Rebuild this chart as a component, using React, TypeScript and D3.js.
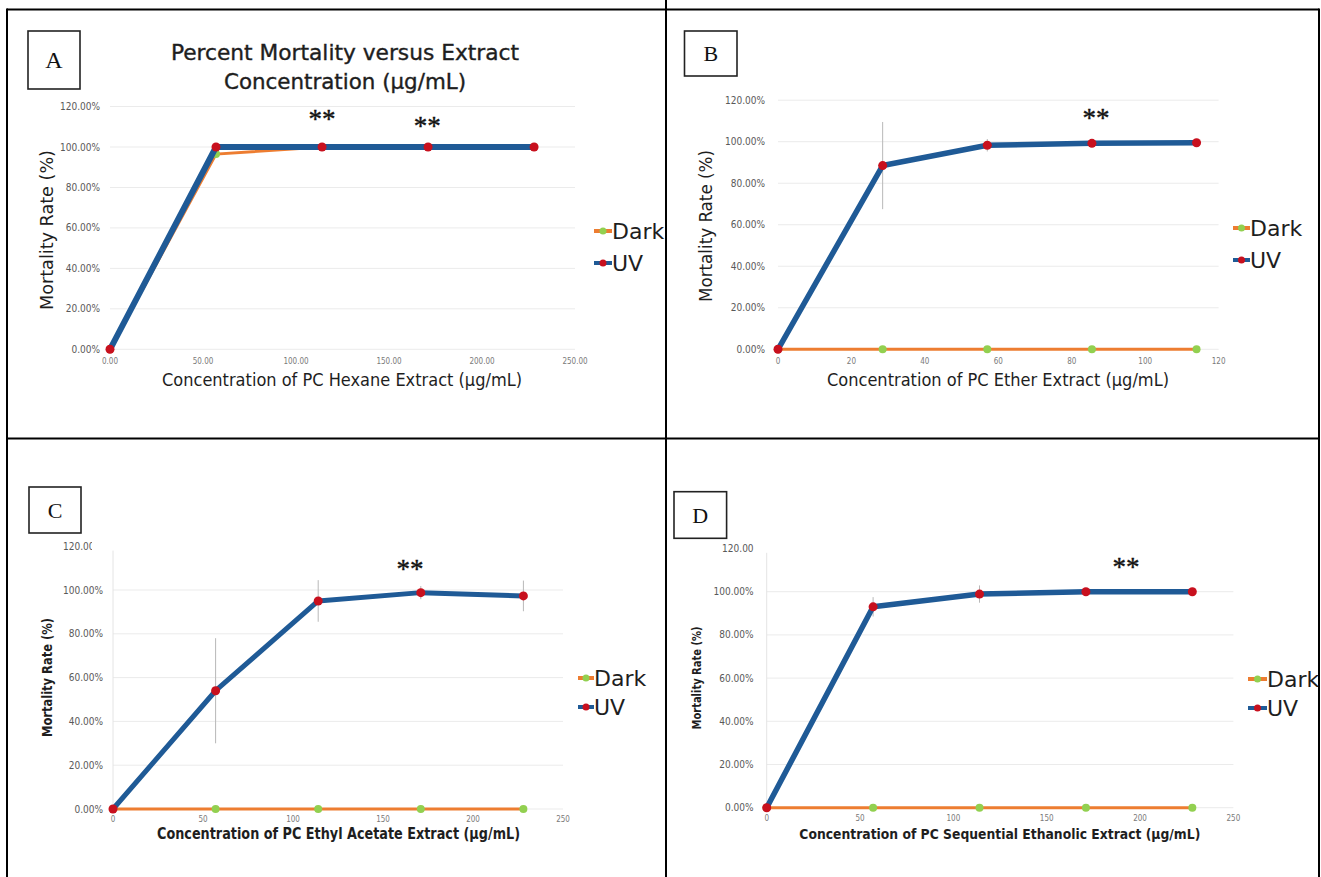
import React from 'react';
import * as d3 from 'd3';

// concentrations (ug/mL) and mortality (%)
const concA = [0, 57, 114, 171, 228];
const uvA = [0, 100, 100, 100, 100];
const darkA = [0, 96.5, 100, 100, 100];
const errA = [0, 0, 0, 0, 0];

const concB = [0, 28.5, 57, 85.5, 114];
const uvB = [0, 88.5, 98.3, 99.2, 99.5];
const darkB = [0, 0, 0, 0, 0];
const errB = [0, 21, 3, 0.5, 0.5];

const concC = [0, 57, 114, 171, 228];
const uvC = [0, 54, 95, 98.8, 97.3];
const darkC = [0, 0, 0, 0, 0];
const errC = [0, 24, 9.5, 3, 7];

const concD = [0, 57, 114, 171, 228];
const uvD = [0, 93, 98.9, 100, 100];
const darkD = [0, 0, 0, 0, 0];
const errD = [0, 4.5, 4, 0, 0];

const yTicks = [0, 20, 40, 60, 80, 100, 120];
const xTicks250 = [0, 50, 100, 150, 200, 250];
const xTicks120 = [0, 20, 40, 60, 80, 100, 120];

// significance marks: [conc, mortality]
const starsA = [[114, 115.5], [170.5, 112]];
const starsB = [[86.6, 113]];
const starsC = [[165, 111]];
const starsD = [[192.5, 113]];

const legendNames = ['Dark', 'UV'];

const BLUE = '#1f5a96';
const ORANGE = '#ed7d31';
const RED = '#c8101e';
const GREEN = '#92d050';

interface PanelProps {
  id: string;
  letter: string;
  conc: number[];
  uv: number[];
  dark: number[];
  err: number[];
  stars: number[][];
  xMax: number;
  xTicks: number[];
  xFmt: (v: number) => string;
  xr: [number, number];
  yr: [number, number]; // pixel at 0% and at 100%
  topLabel: string;
  topClip?: number;
  gridMax: number;
  yLabelX: number;
  xLabelY: number;
  yTitle: string;
  yTitlePos: [number, number, number, number]; // x, y, length, size
  yTitleBold: boolean;
  xTitle: string;
  xTitlePos: [number, number, number, number];
  box: [number, number, number, number];
  boxFont: number;
  legend: [number, number, number, number]; // lineX, textX, yDark, yUV
  uvWidth: number;
  axisLine?: boolean;
}

const Panel: React.FC<PanelProps> = (p) => {
  const x = d3.scaleLinear().domain([0, p.xMax]).range(p.xr);
  const y = d3.scaleLinear().domain([0, 100]).range(p.yr);
  const line = d3.line<number>().x((_, i) => x(p.conc[i])).y(d => y(d));
  const sans = 'DejaVu Sans Condensed, DejaVu Sans, sans-serif';
  const [lx, tx, yDark, yUV] = p.legend;
  return (
    <g>
      {p.topClip !== undefined && (
        <clipPath id={`clip-${p.id}`}>
          <rect x={0} y={0} width={p.topClip} height={877} />
        </clipPath>
      )}
      {yTicks.filter(t => t <= p.gridMax).map(t => (
        <line key={t} x1={p.xr[0]} x2={p.xr[1]} y1={y(t)} y2={y(t)} stroke="#ebebeb" strokeWidth={1} />
      ))}
      {p.axisLine && (
        <line x1={p.xr[0]} x2={p.xr[0]} y1={y(118)} y2={y(0)} stroke="#e4e4e4" strokeWidth={1} />
      )}
      {yTicks.map(t => (
        <text key={t} x={p.yLabelX} y={y(t)} dy="0.35em" textAnchor="end" fontFamily={sans}
          fontSize={10} fill="#595959"
          clipPath={t === 120 && p.topClip !== undefined ? `url(#clip-${p.id})` : undefined}>
          {t === 120 ? p.topLabel : `${t.toFixed(2)}%`}
        </text>
      ))}
      {p.xTicks.map(t => (
        <text key={t} x={x(t)} y={p.xLabelY} textAnchor="middle" fontFamily={sans} fontSize={8} fill="#7a7a7a">
          {p.xFmt(t)}
        </text>
      ))}
      {p.err.map((e, i) => e > 0 && (
        <line key={i} x1={x(p.conc[i])} x2={x(p.conc[i])} y1={y(p.uv[i] - e)} y2={y(p.uv[i] + e)}
          stroke="#b8b8b8" strokeWidth={1} />
      ))}
      <path d={line(p.dark) || ''} fill="none" stroke={ORANGE} strokeWidth={3} />
      {p.dark.map((d, i) => (
        <circle key={i} cx={x(p.conc[i])} cy={y(d)} r={4} fill={GREEN} />
      ))}
      <path d={line(p.uv) || ''} fill="none" stroke={BLUE} strokeWidth={p.uvWidth} strokeLinejoin="round" />
      {p.uv.map((d, i) => (
        <circle key={i} cx={x(p.conc[i])} cy={y(d)} r={4.5} fill={RED} />
      ))}
      {p.stars.map(([sx, sy], i) => (
        <text key={i} x={x(sx)} y={y(sy) + 12} textAnchor="middle" fontFamily="Liberation Serif, serif"
          fontSize={27} fill="#111" stroke="#111" strokeWidth={0.4}>**</text>
      ))}
      <text transform={`translate(${p.yTitlePos[0]},${p.yTitlePos[1]}) rotate(-90)`} textAnchor="middle"
        dy="0.35em" fontFamily={sans} fontSize={p.yTitlePos[3]} fontWeight={p.yTitleBold ? 'bold' : 'normal'}
        fill="#1e1e1e" textLength={p.yTitlePos[2]} lengthAdjust="spacingAndGlyphs">{p.yTitle}</text>
      <text x={p.xTitlePos[0]} y={p.xTitlePos[1]} textAnchor="middle" dy="0.35em" fontFamily={sans}
        fontSize={p.xTitlePos[3]} fontWeight={p.yTitleBold ? 'bold' : 'normal'} fill="#1e1e1e"
        textLength={p.xTitlePos[2]} lengthAdjust="spacingAndGlyphs">{p.xTitle}</text>
      {[ORANGE, BLUE].map((c, i) => {
        const ly = i === 0 ? yDark : yUV;
        return (
          <g key={i}>
            <line x1={lx} x2={tx} y1={ly} y2={ly} stroke={c} strokeWidth={4} />
            <circle cx={(lx + tx) / 2} cy={ly} r={3.5} fill={i === 0 ? GREEN : RED} />
            <text x={tx} y={ly} dy="0.36em" fontFamily="DejaVu Sans, sans-serif" fontSize={22}
              fill="#1e1e1e">{legendNames[i]}</text>
          </g>
        );
      })}
      <rect x={p.box[0]} y={p.box[1]} width={p.box[2] - p.box[0]} height={p.box[3] - p.box[1]}
        fill="#fff" stroke="#222" strokeWidth={1.6} />
      <text x={(p.box[0] + p.box[2]) / 2} y={(p.box[1] + p.box[3]) / 2} dy="0.35em" textAnchor="middle"
        fontFamily="Liberation Serif, serif" fontSize={p.boxFont} fill="#111">{p.letter}</text>
    </g>
  );
};

const fmt2 = (v: number) => v.toFixed(2);
const fmt0 = (v: number) => `${v}`;

export default function App() {
  return (
    <svg width={1321} height={877} style={{ position: 'absolute', left: 0, top: 0, background: '#fff' }}>
      <rect width={1321} height={877} fill="#fff" />
      <Panel id="a" letter="A" conc={concA} uv={uvA} dark={darkA} err={errA} stars={starsA}
        xMax={250} xTicks={xTicks250} xFmt={fmt2} xr={[110, 575]} yr={[349.3, 147]}
        topLabel="120.00%" gridMax={120} yLabelX={100} xLabelY={364}
        yTitle="Mortality  Rate (%)" yTitlePos={[47, 230, 160, 18]} yTitleBold={false}
        xTitle="Concentration of PC Hexane Extract (µg/mL)" xTitlePos={[342, 380, 360, 17]}
        box={[28, 31, 80, 89]} boxFont={24} legend={[594, 612, 231, 263]} uvWidth={6} />
      <Panel id="b" letter="B" conc={concB} uv={uvB} dark={darkB} err={errB} stars={starsB}
        xMax={120} xTicks={xTicks120} xFmt={fmt0} xr={[778, 1218.6]} yr={[349.3, 141.7]}
        topLabel="120.00%" gridMax={120} yLabelX={765} xLabelY={364}
        yTitle="Mortality Rate (%)" yTitlePos={[706, 226, 152, 17]} yTitleBold={false}
        xTitle="Concentration of PC Ether Extract (µg/mL)" xTitlePos={[998, 380, 342, 17]}
        box={[684.5, 31, 737, 76]} boxFont={22} legend={[1233, 1250, 228, 260]} uvWidth={5.5} />
      <Panel id="c" letter="C" conc={concC} uv={uvC} dark={darkC} err={errC} stars={starsC}
        xMax={250} xTicks={xTicks250} xFmt={fmt0} xr={[113, 563]} yr={[809, 590]}
        topLabel="120.00%" topClip={92} gridMax={100} yLabelX={103} xLabelY={822}
        yTitle="Mortality  Rate (%)" yTitlePos={[47, 677.5, 119, 14]} yTitleBold={true}
        xTitle="Concentration of PC Ethyl Acetate Extract (µg/mL)" xTitlePos={[338.5, 834, 363, 15]}
        box={[29, 487, 81, 533]} boxFont={22} legend={[578, 594, 678, 707]} uvWidth={5} axisLine />
      <Panel id="d" letter="D" conc={concD} uv={uvD} dark={darkD} err={errD} stars={starsD}
        xMax={250} xTicks={xTicks250} xFmt={fmt0} xr={[766.7, 1233.4]} yr={[807.7, 591.7]}
        topLabel="120.00" gridMax={100} yLabelX={753.6} xLabelY={821}
        yTitle="Mortality Rate (%)" yTitlePos={[696, 678, 103, 13]} yTitleBold={true}
        xTitle="Concentration of PC Sequential Ethanolic Extract (µg/mL)" xTitlePos={[999.8, 834, 401, 14]}
        box={[674, 491.7, 726.6, 538.3]} boxFont={22} legend={[1248, 1267, 679, 708]} uvWidth={5.5} axisLine />
      <text x={345} y={59.5} textAnchor="middle" fontFamily="DejaVu Sans Condensed, DejaVu Sans, sans-serif"
        fontSize={22} fill="#1e1e1e" stroke="#1e1e1e" strokeWidth={0.35} textLength={348}
        lengthAdjust="spacingAndGlyphs">
        Percent Mortality versus Extract
      </text>
      <text x={345} y={88.5} textAnchor="middle" fontFamily="DejaVu Sans Condensed, DejaVu Sans, sans-serif"
        fontSize={22} fill="#1e1e1e" stroke="#1e1e1e" strokeWidth={0.35} textLength={242}
        lengthAdjust="spacingAndGlyphs">
        Concentration (µg/mL)
      </text>
      {/* table frame */}
      <g stroke="#000" strokeWidth={2}>
        <line x1={7} x2={1319} y1={9.5} y2={9.5} />
        <line x1={7} x2={7} y1={8.5} y2={877} />
        <line x1={1319} x2={1319} y1={8.5} y2={877} />
        <line x1={666} x2={666} y1={0} y2={877} />
        <line x1={7} x2={1319} y1={438.5} y2={438.5} />
      </g>
    </svg>
  );
}
